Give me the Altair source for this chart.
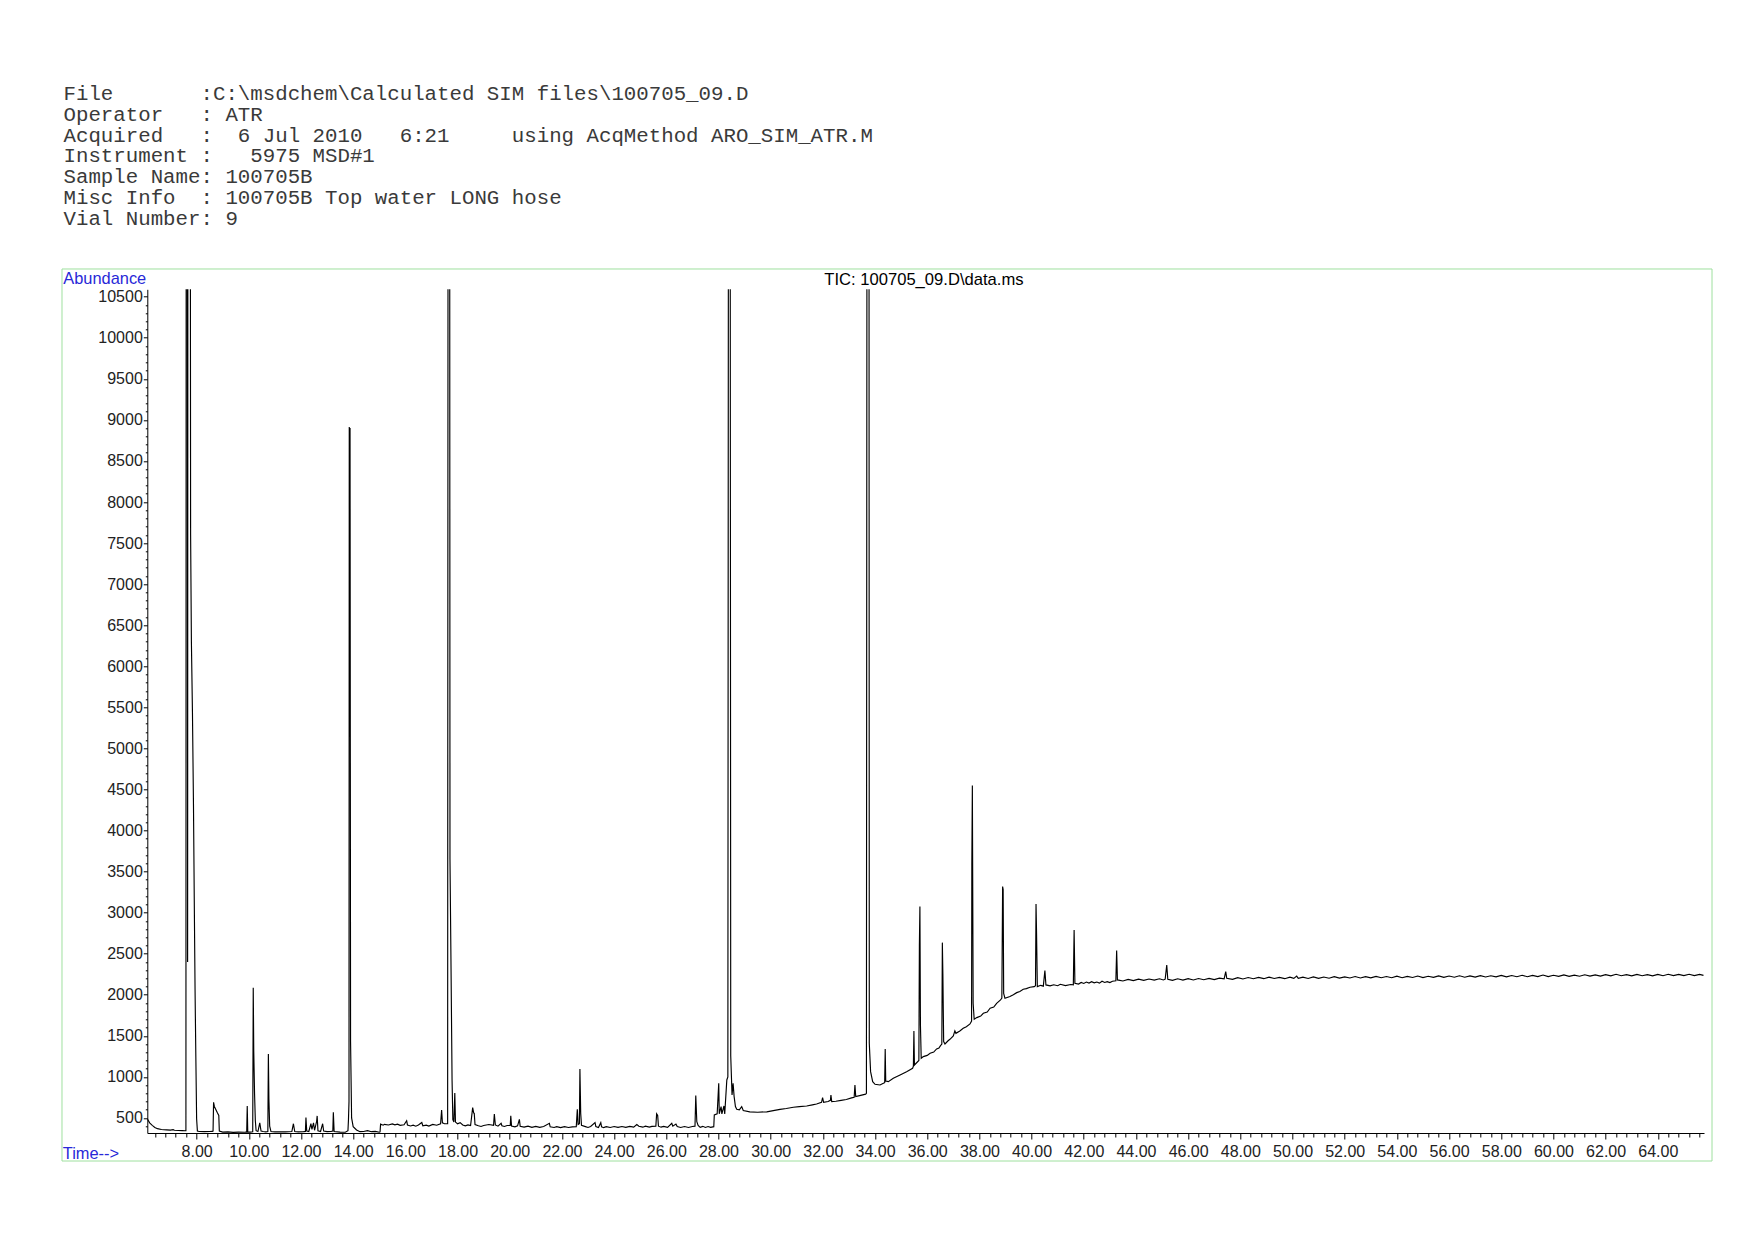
import altair as alt
import pandas as pd

HEADER_LINES = [
    "File       :C:\\msdchem\\Calculated SIM files\\100705_09.D",
    "Operator   : ATR",
    "Acquired   :  6 Jul 2010   6:21     using AcqMethod ARO_SIM_ATR.M",
    "Instrument :   5975 MSD#1",
    "Sample Name: 100705B",
    "Misc Info  : 100705B Top water LONG hose",
    "Vial Number: 9",
]
TITLE = "TIC: 100705_09.D\\data.ms"
Y_LABEL = "Abundance"
X_LABEL = "Time-->"

X_DOMAIN = [6.11, 65.77]
Y_DOMAIN = [317, 10590]
X_TICKS = [round(6.4 + 0.4 * i, 1) for i in range(149)]
Y_TICKS = [400 + 100 * i for i in range(102)]

# (time [min], abundance); values above the
# plot top are clipped peaks
TRACE = [
    (6.11, 490), (6.2, 440), (6.3, 410), (6.4, 385), (6.5, 370), (6.65, 360),
    (6.85, 355), (7.0, 352), (7.1, 358), (7.15, 350), (7.3, 348), (7.45, 346),
    (7.57, 345), (7.59, 345), (7.60, 11500), (7.645, 11500), (7.655, 2400),
    (7.665, 11500), (7.76, 11500), (7.77, 7600), (7.80, 6300), (7.84, 5450),
    (7.88, 4300), (7.91, 3150), (7.94, 2070), (7.97, 1250), (8.0, 490),
    (8.03, 340), (8.1, 335), (8.3, 333), (8.5, 335), (8.6, 336), (8.63, 340),
    (8.65, 690), (8.68, 640), (8.74, 600), (8.80, 560), (8.85, 530), (8.87, 340),
    (9.0, 328), (9.2, 330), (9.4, 325), (9.6, 327), (9.85, 326), (9.92, 330),
    (9.94, 646), (9.96, 330), (10.05, 328), (10.15, 332), (10.17, 2087),
    (10.19, 1310), (10.22, 800), (10.25, 470), (10.28, 345), (10.35, 335),
    (10.42, 440), (10.47, 340), (10.55, 335), (10.65, 330), (10.73, 335),
    (10.75, 1279), (10.77, 730), (10.80, 400), (10.85, 335), (11.0, 330),
    (11.2, 332), (11.4, 330), (11.65, 335), (11.71, 430), (11.76, 335),
    (11.9, 330), (12.1, 333), (12.17, 335), (12.19, 505), (12.22, 340),
    (12.3, 335), (12.38, 430), (12.42, 360), (12.48, 440), (12.52, 350),
    (12.6, 460), (12.62, 525), (12.65, 345), (12.75, 335), (12.83, 430),
    (12.87, 340), (13.0, 333), (13.15, 335), (13.22, 340), (13.24, 570),
    (13.27, 335), (13.5, 328), (13.7, 326), (13.8, 345), (13.82, 480),
    (13.84, 700), (13.85, 8912), (13.87, 8650), (13.88, 8900), (13.90, 1430),
    (13.94, 500), (14.0, 394), (14.13, 354), (14.26, 333), (14.4, 335),
    (14.55, 345), (14.7, 333), (14.85, 336), (15.0, 326), (15.03, 330),
    (15.05, 425), (15.15, 412), (15.2, 422), (15.35, 415), (15.5, 428),
    (15.6, 416), (15.7, 424), (15.8, 410), (15.95, 418), (16.05, 467),
    (16.08, 415), (16.2, 402), (16.3, 412), (16.4, 400), (16.5, 414),
    (16.63, 445), (16.67, 405), (16.8, 413), (16.9, 402), (17.05, 422),
    (17.2, 412), (17.35, 430), (17.39, 597), (17.42, 440), (17.5, 430),
    (17.62, 430), (17.635, 11500), (17.70, 11500), (17.71, 3650),
    (17.755, 2180), (17.79, 960), (17.82, 480), (17.86, 450), (17.895, 805),
    (17.92, 450), (18.0, 430), (18.1, 443), (18.2, 415), (18.3, 405),
    (18.4, 416), (18.5, 408), (18.58, 626), (18.62, 560), (18.64, 557),
    (18.67, 420), (18.8, 405), (18.9, 396), (19.0, 408), (19.2, 420),
    (19.38, 410), (19.41, 549), (19.45, 415), (19.55, 400), (19.67, 435),
    (19.7, 405), (19.8, 396), (19.9, 408), (20.02, 410), (20.04, 528),
    (20.07, 402), (20.2, 392), (20.3, 404), (20.37, 483), (20.4, 400),
    (20.55, 388), (20.7, 400), (20.85, 386), (21.0, 398), (21.15, 386),
    (21.3, 396), (21.52, 435), (21.55, 392), (21.7, 384), (21.8, 394),
    (21.95, 382), (22.1, 394), (22.25, 384), (22.4, 392), (22.55, 395),
    (22.59, 605), (22.62, 420), (22.67, 430), (22.69, 1097), (22.72, 557),
    (22.75, 410), (22.9, 395), (23.0, 384), (23.1, 396), (23.27, 443),
    (23.3, 395), (23.4, 384), (23.49, 443), (23.52, 392), (23.6, 382),
    (23.7, 394), (23.85, 384), (24.0, 396), (24.15, 385), (24.3, 396),
    (24.45, 386), (24.6, 398), (24.75, 388), (24.87, 420), (24.95, 400),
    (25.1, 388), (25.2, 400), (25.35, 388), (25.45, 398), (25.6, 400),
    (25.63, 550), (25.67, 530), (25.7, 400), (25.8, 388), (25.9, 398),
    (26.05, 386), (26.21, 435), (26.25, 400), (26.37, 425), (26.42, 395),
    (26.55, 384), (26.7, 396), (26.85, 384), (27.0, 396), (27.1, 400),
    (27.13, 772), (27.17, 455), (27.22, 410), (27.3, 386), (27.4, 398),
    (27.5, 384), (27.6, 396), (27.7, 385), (27.82, 394), (27.84, 536),
    (27.95, 550), (28.01, 922), (28.03, 550), (28.1, 638), (28.13, 550),
    (28.21, 646), (28.24, 550), (28.32, 963), (28.36, 1000), (28.38, 11500),
    (28.45, 11500), (28.47, 1255), (28.52, 780), (28.56, 922), (28.6, 760),
    (28.65, 640), (28.7, 606), (28.8, 600), (28.89, 638), (28.95, 590),
    (29.2, 575), (29.5, 570), (29.85, 575), (30.1, 590), (30.36, 605),
    (30.6, 615), (30.87, 630), (31.1, 638), (31.38, 646), (31.6, 660),
    (31.76, 670), (31.95, 690), (31.99, 747), (32.03, 690), (32.2, 700),
    (32.29, 715), (32.31, 780), (32.34, 700), (32.5, 703), (32.7, 715),
    (32.9, 725), (33.1, 745), (33.2, 752), (33.23, 902), (33.26, 760),
    (33.45, 775), (33.64, 790), (33.67, 800), (33.69, 11500), (33.77, 11500),
    (33.78, 1409), (33.83, 1064), (33.91, 942), (34.0, 910), (34.19, 902),
    (34.32, 922), (34.37, 930), (34.39, 1340), (34.41, 950), (34.51, 942),
    (34.7, 983), (34.96, 1024), (35.21, 1064), (35.44, 1105), (35.47, 1130),
    (35.49, 1560), (35.51, 1145), (35.68, 1200), (35.70, 2600),
    (35.72, 3074), (35.74, 1632), (35.77, 1227), (35.85, 1247),
    (36.0, 1262), (36.11, 1288), (36.25, 1302), (36.36, 1340), (36.45, 1352),
    (36.51, 1381), (36.56, 1400), (36.58, 2635), (36.60, 2254), (36.63, 1430),
    (36.68, 1401), (36.8, 1440), (36.87, 1458), (37.0, 1500), (37.06, 1560),
    (37.1, 1531), (37.25, 1560), (37.38, 1592), (37.5, 1612), (37.64, 1645),
    (37.70, 1680), (37.71, 3581), (37.73, 4548), (37.76, 1896),
    (37.80, 1702), (37.9, 1722), (38.05, 1740), (38.15, 1775), (38.3, 1790),
    (38.41, 1836), (38.55, 1850), (38.66, 1896), (38.81, 1937), (38.86, 1960),
    (38.89, 3317), (38.91, 3280), (38.93, 2018), (38.98, 1957),
    (39.17, 1978), (39.3, 2000), (39.43, 2026), (39.55, 2040), (39.68, 2067),
    (39.8, 2075), (39.94, 2091), (40.1, 2099), (40.15, 2110), (40.17, 3106),
    (40.19, 2757), (40.22, 2099), (40.35, 2115), (40.45, 2105),
    (40.51, 2294), (40.55, 2120), (40.71, 2108), (40.85, 2122), (41.0, 2110),
    (41.1, 2128), (41.3, 2112), (41.5, 2125), (41.6, 2120), (41.63, 2790),
    (41.66, 2140), (41.8, 2130), (41.9, 2150), (42.0, 2138), (42.1, 2155),
    (42.2, 2142), (42.3, 2160), (42.4, 2145), (42.5, 2155), (42.6, 2142),
    (42.7, 2165), (42.8, 2150), (42.9, 2160), (43.0, 2148), (43.1, 2165),
    (43.23, 2170), (43.26, 2538), (43.29, 2181), (43.5, 2168), (43.7, 2188),
    (43.9, 2172), (44.1, 2190), (44.3, 2175), (44.5, 2192), (44.7, 2178),
    (44.9, 2195), (45.05, 2180), (45.12, 2190), (45.18, 2363), (45.22, 2189),
    (45.4, 2175), (45.6, 2195), (45.8, 2178), (46.0, 2196), (46.2, 2180),
    (46.4, 2198), (46.6, 2183), (46.8, 2200), (47.0, 2185), (47.2, 2202),
    (47.38, 2195), (47.44, 2282), (47.48, 2200), (47.7, 2188), (47.9, 2208),
    (48.1, 2192), (48.3, 2210), (48.5, 2195), (48.7, 2212), (48.9, 2196),
    (49.1, 2214), (49.3, 2198), (49.5, 2212), (49.7, 2196), (49.9, 2215),
    (50.05, 2200), (50.16, 2228), (50.22, 2200), (50.4, 2215), (50.6, 2198),
    (50.8, 2218), (51.0, 2200), (51.2, 2216), (51.4, 2202), (51.6, 2220),
    (51.8, 2203), (52.0, 2218), (52.2, 2204), (52.4, 2222), (52.6, 2205),
    (52.8, 2220), (53.0, 2206), (53.2, 2224), (53.4, 2207), (53.6, 2222),
    (53.8, 2208), (54.0, 2226), (54.2, 2208), (54.4, 2224), (54.6, 2210),
    (54.8, 2228), (55.0, 2210), (55.2, 2226), (55.4, 2212), (55.6, 2230),
    (55.8, 2212), (56.0, 2228), (56.2, 2214), (56.4, 2232), (56.6, 2214),
    (56.8, 2230), (57.0, 2216), (57.2, 2233), (57.4, 2217), (57.6, 2232),
    (57.8, 2218), (58.0, 2236), (58.2, 2218), (58.4, 2234), (58.6, 2220),
    (58.8, 2238), (59.0, 2220), (59.2, 2236), (59.4, 2222), (59.6, 2240),
    (59.8, 2222), (60.0, 2238), (60.2, 2224), (60.4, 2242), (60.6, 2225),
    (60.8, 2240), (61.0, 2226), (61.2, 2244), (61.4, 2227), (61.6, 2242),
    (61.8, 2228), (62.0, 2246), (62.2, 2230), (62.4, 2250), (62.6, 2232),
    (62.8, 2246), (63.0, 2230), (63.2, 2248), (63.4, 2232), (63.6, 2246),
    (63.8, 2231), (64.0, 2248), (64.2, 2232), (64.4, 2250), (64.6, 2234),
    (64.8, 2248), (65.0, 2233), (65.2, 2250), (65.4, 2234), (65.6, 2248),
    (65.75, 2236),
]

df = pd.DataFrame(TRACE, columns=["time", "abundance"])
df["idx"] = range(len(df))
one = pd.DataFrame({"k": [0]})

# keep the fixed-width column alignment of the header (SVG collapses spaces)
header_text = [s.replace(" ", "\u00a0") for s in HEADER_LINES]

MAJOR_X = "abs(datum.value - round(datum.value / 2) * 2) < 0.01"
MAJOR_Y = "abs(datum.value - round(datum.value / 500) * 500) < 0.5"

x_axis = alt.Axis(
    values=X_TICKS, title=None, grid=False,
    labelExpr=f"{MAJOR_X} ? format(datum.value, '.2f') : ''",
    tickSize={"condition": {"test": MAJOR_X, "value": 6}, "value": 4},
    labelFont="Liberation Sans", labelFontSize=16, labelColor="#222222",
    labelPadding=4, labelOverlap=False, labelFlush=False,
    domainColor="black", tickColor="black", domainWidth=1, tickWidth=1,
)
y_axis = alt.Axis(
    values=Y_TICKS, title=None, grid=False,
    labelExpr=f"{MAJOR_Y} ? format(datum.value, 'd') : ''",
    tickSize={"condition": {"test": MAJOR_Y, "value": 4}, "value": 2},
    labelFont="Liberation Sans", labelFontSize=16, labelColor="#222222",
    labelPadding=1, labelOverlap=False, labelFlush=False,
    domainColor="black", tickColor="black", domainWidth=1, tickWidth=1,
)

line = alt.Chart(df).mark_line(clip=True, color="black", strokeWidth=1.15).encode(
    x=alt.X("time:Q", scale=alt.Scale(domain=X_DOMAIN, nice=False, zero=False), axis=x_axis),
    y=alt.Y("abundance:Q", scale=alt.Scale(domain=Y_DOMAIN, nice=False, zero=False), axis=y_axis),
    order="idx:Q",
)

border = alt.Chart(one).mark_rect(filled=False, stroke="#9ee09e", strokeWidth=1).encode(
    x=alt.value(-85.3), x2=alt.value(1564.7), y=alt.value(-20.3), y2=alt.value(871.7)
)

header = alt.Chart(one).mark_text(
    text=header_text, font="Liberation Mono", fontSize=20.75, lineHeight=20.9,
    align="left", baseline="alphabetic", color="#3a3a3a",
).encode(x=alt.value(-83.8), y=alt.value(-189.5))

title = alt.Chart(one).mark_text(
    text=TITLE, font="Liberation Sans", fontSize=16.6, align="left",
    baseline="middle", color="black",
).encode(x=alt.value(677), y=alt.value(-9))

ylab = alt.Chart(one).mark_text(
    text=Y_LABEL, font="Liberation Sans", fontSize=16.4, align="left",
    baseline="middle", color="#2828d8",
).encode(x=alt.value(-84), y=alt.value(-10))

xlab = alt.Chart(one).mark_text(
    text=X_LABEL, font="Liberation Sans", fontSize=16.4, align="left",
    baseline="middle", color="#2828d8",
).encode(x=alt.value(-84.5), y=alt.value(865))

chart = alt.layer(border, line, header, title, ylab, xlab).properties(
    width=1556.7, height=843.7,
    autosize=alt.AutoSizeParams(type="none"),
    padding={"left": 139.3, "top": 281.3, "right": 28, "bottom": 90},
).configure_view(strokeWidth=0)

chart.save("out.html", embed_options={"renderer": "svg", "actions": False})
